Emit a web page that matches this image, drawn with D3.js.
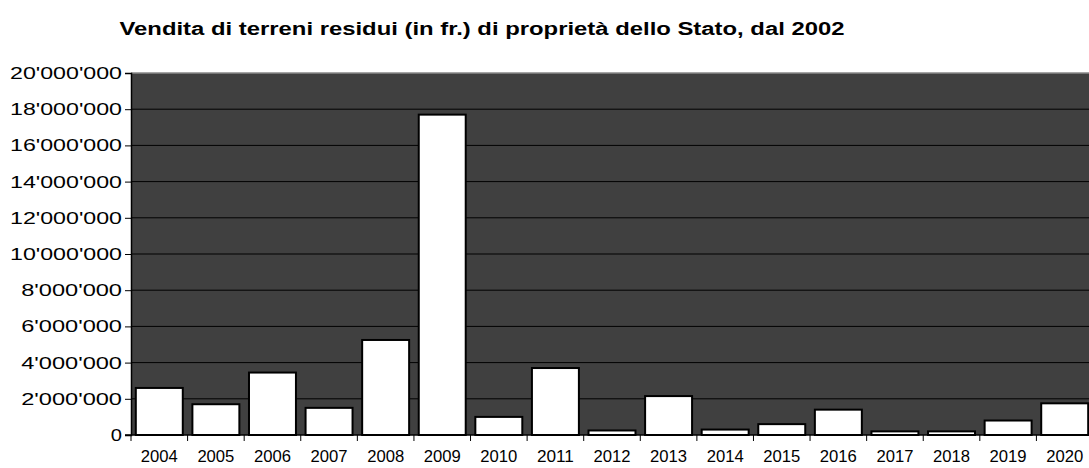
<!DOCTYPE html><html><head><meta charset="utf-8">
<script src="https://cdn.jsdelivr.net/npm/d3@7"></script>
<style>body{margin:0;background:#fff}text{font-family:"Liberation Sans",Arial,sans-serif}</style></head><body>
<svg id="c" width="1089" height="468"></svg>
<script>
const years=["2004","2005","2006","2007","2008","2009","2010","2011","2012","2013","2014","2015","2016","2017","2018","2019","2020"];
const values=[2600000,1700000,3450000,1500000,5250000,17700000,1000000,3700000,250000,2150000,300000,600000,1400000,200000,200000,800000,1750000];
const yTicks=[0,2e6,4e6,6e6,8e6,10e6,12e6,14e6,16e6,18e6,20e6];
const svg=d3.select("#c");
const L=131,R=1093,T=73,B=435;
const x=d3.scaleBand().domain(years).range([L,R]).paddingInner(0.17).paddingOuter(0.085);
const y=d3.scaleLinear().domain([0,20e6]).range([B,T]);
svg.append("rect").attr("x",L).attr("y",T).attr("width",R-L).attr("height",B-T).attr("fill","#404040");
svg.append("line").attr("x1",L).attr("x2",R).attr("y1",T).attr("y2",T).attr("stroke","#888").attr("stroke-width",1.5);
svg.append("g").selectAll("line").data(yTicks.slice(1,-1)).join("line").attr("x1",L).attr("x2",R)
 .attr("y1",d=>y(d)).attr("y2",d=>y(d)).attr("stroke","#000");
svg.append("g").selectAll("rect").data(values).join("rect")
 .attr("x",(d,i)=>x(years[i])).attr("width",x.bandwidth()).attr("y",d=>y(d)).attr("height",d=>B-y(d))
 .attr("fill","#fff").attr("stroke","#000").attr("stroke-width",2);
const fmt=d=>d3.format(",")(d).replace(/,/g,"'");
const ya=svg.append("g").attr("transform",`translate(${L},0)`).call(d3.axisLeft(y).tickValues(yTicks).tickFormat(fmt).tickSize(6).tickPadding(3));
ya.select(".domain").attr("stroke","#000").attr("stroke-width",1.5);
ya.selectAll("text").attr("font-size",17).attr("fill","#000").each(function(){const n=this.textContent.length;this.setAttribute("textLength",n*11.2);this.setAttribute("lengthAdjust","spacingAndGlyphs");});
const step=x.step();
const xa=svg.append("g").attr("transform",`translate(0,${B})`);
xa.append("line").attr("x1",L-6).attr("x2",R).attr("stroke","#000").attr("stroke-width",1.5);
xa.selectAll(".t").data(years).join("line").attr("x1",(d,i)=>L+i*step).attr("x2",(d,i)=>L+i*step).attr("y1",0).attr("y2",6).attr("stroke","#000");
xa.selectAll("text").data(years).join("text").attr("x",d=>x(d)+x.bandwidth()/2).attr("y",27).attr("text-anchor","middle").attr("font-size",17)
 .attr("textLength",37).attr("lengthAdjust","spacingAndGlyphs").text(d=>d);
svg.append("text").attr("x",482).attr("y",35).attr("text-anchor","middle").attr("font-size",18).attr("font-weight","bold")
 .attr("textLength",725).attr("lengthAdjust","spacingAndGlyphs").text("Vendita di terreni residui (in fr.) di proprietà dello Stato, dal 2002");
</script></body></html>
